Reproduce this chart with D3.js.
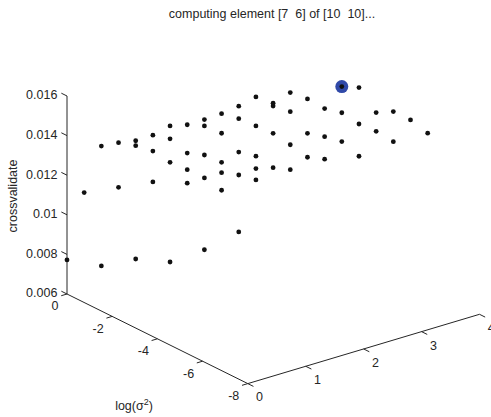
<!DOCTYPE html>
<html>
<head>
<meta charset="utf-8">
<script src="https://cdn.jsdelivr.net/npm/d3@7"></script>
<style>
  html, body { margin: 0; padding: 0; background: #fff; }
  svg { display: block; }
  text { font-family: "Liberation Sans", Arial, sans-serif; fill: #262626; white-space: pre; }
</style>
</head>
<body>
<svg id="chart" width="491" height="417"></svg>
<script>
// ---- data ----
const titleText = "computing element [7  6] of [10  10]...";
const zLabel = "crossvalidate";
// grid of the second parameter (unlabelled axis, 0..4), one value per computed row
const logGamma = [0, 0.593, 1.186, 1.779, 2.372, 2.965, 3.558];
// grid of log(sigma^2)
const logSigma2 = [0, -0.76, -1.52, -2.28, -3.04, -3.8, -4.56, -5.32, -6.08, -6.84];
// crossvalidation cost, one array per logGamma value (null = not computed yet)
const costG1 = [0.00772, 0.01155, 0.01433, 0.01493, 0.01546, 0.01537, 0.01523, 0.01529, 0.01530, 0.01511];
const costG2 = [0.00690, 0.01130, 0.01383, 0.01479, 0.01504, 0.01475, 0.01508, 0.01514, 0.01493, 0.01511];
const costG3 = [0.00673, 0.01105, 0.01431, 0.01480, 0.01517, 0.01523, 0.01471, 0.01493, 0.01478, 0.01511];
const costG4 = [0.00606, 0.01047, 0.01411, 0.01484, 0.01502, 0.01508, 0.01514, 0.01499, 0.01479, 0.01512];
const costG5 = [0.00616, 0.01048, 0.01427, 0.01517, 0.01528, 0.01528, 0.01462, 0.01488, 0.01506, 0.01475];
const costG6 = [0.00654, 0.01017, 0.01376, 0.01487, 0.01498, 0.01492, 0.01514, 0.01500, 0.01506, 0.01497];
const costG7 = [null, null, null, null, 0.01508, 0.01546, 0.01463, 0.01511, 0.01512, 0.01488];
const currentElement = [6, 4]; // [gamma index, sigma index] of the point being computed

const xTicks = [0, 1, 2, 3, 4];
const yTicks = [0, -2, -4, -6, -8];
const zTicks = [0.006, 0.008, 0.01, 0.012, 0.014, 0.016];

// ---- projection (orthographic 3-D view) built from D3 scales ----
const O = [67, 294];
const xVec = d3.scaleLinear().domain([0, 4]).range([[0, 0], [231.7, -69.3]]);
const yVec = d3.scaleLinear().domain([0, -8]).range([[0, 0], [180.8, 89.6]]);
const zVec = d3.scaleLinear().domain([0.006, 0.016]).range([[0, 0], [0, -198]]);
function proj(x, y, z) {
  const a = xVec(x), ax = a[0], ay = a[1];
  const b = yVec(y), bx = b[0], by = b[1];
  const c = zVec(z), cx = c[0], cy = c[1];
  return [O[0] + ax + bx + cx, O[1] + ay + by + cy];
}

const svg = d3.select("#chart");
const fs = 12.5;
const axisColor = "#262626";

// title
svg.append("text").attr("x", 272).attr("y", 18).attr("text-anchor", "middle")
  .attr("xml:space", "preserve")
  .style("font-size", fs + "px").text(titleText);

// axes lines
const xMin = 0, xMax = 4, yMin = -8, yMax = 0, zMin = 0.006, zMax = 0.016;
function line(p, q) {
  svg.append("line").attr("x1", p[0]).attr("y1", p[1]).attr("x2", q[0]).attr("y2", q[1])
    .attr("stroke", axisColor).attr("stroke-width", 1);
}
line(proj(xMin, yMax, zMin), proj(xMin, yMax, zMax)); // z axis
line(proj(xMin, yMax, zMin), proj(xMin, yMin, zMin)); // y axis
line(proj(xMin, yMin, zMin), proj(xMax, yMin, zMin)); // x axis

// z ticks
zTicks.forEach(t => {
  const p = proj(xMin, yMax, t), q = proj(xMin, yMax + 0.25, t);
  line(p, q);
  svg.append("text").attr("x", q[0] - 4).attr("y", q[1] + 1.8).attr("dy", "0.35em")
    .attr("text-anchor", "end").style("font-size", fs + "px").text(String(t));
});
// y ticks
yTicks.forEach(t => {
  const p = proj(xMin, t, zMin), q = proj(xMin - 0.1, t, zMin);
  line(p, q);
  svg.append("text").attr("x", p[0] - 8.5).attr("y", p[1] + 12).attr("dy", "0.35em")
    .attr("text-anchor", "end").style("font-size", fs + "px").text(String(t));
});
// x ticks
xTicks.forEach(t => {
  const p = proj(t, yMin, zMin), q = proj(t, yMin - 0.25, zMin);
  line(p, q);
  svg.append("text").attr("x", p[0] + 11.8).attr("y", p[1] + 13.5).attr("dy", "0.35em")
    .attr("text-anchor", "middle").style("font-size", fs + "px").text(String(t));
});

// axis labels
const yl = svg.append("text").attr("x", 134).attr("y", 410).attr("text-anchor", "middle")
  .style("font-size", fs + "px");
yl.append("tspan").text("log(σ");
yl.append("tspan").attr("dy", "-5").style("font-size", "9px").text("2");
yl.append("tspan").attr("dy", "5").text(")");

svg.append("text").attr("transform", "translate(17,196) rotate(-90)")
  .attr("text-anchor", "middle").style("font-size", fs + "px").text(zLabel);

// points
const costRows = [costG1, costG2, costG3, costG4, costG5, costG6, costG7];
const pts = [];
costRows.forEach((row, i) => row.forEach((v, j) => {
  if (v !== null) pts.push({ i, j, x: logGamma[i], y: logSigma2[j], z: v });
}));

const cur = pts.find(d => d.i === currentElement[0] && d.j === currentElement[1]);
const cp = proj(cur.x, cur.y, cur.z);
svg.append("circle").attr("cx", cp[0]).attr("cy", cp[1]).attr("r", 6.5).attr("fill", "#3049a8");

svg.append("g").selectAll("circle").data(pts).join("circle")
  .attr("cx", d => proj(d.x, d.y, d.z)[0])
  .attr("cy", d => proj(d.x, d.y, d.z)[1])
  .attr("r", 2.4)
  .attr("fill", "#111");
</script>
</body>
</html>
